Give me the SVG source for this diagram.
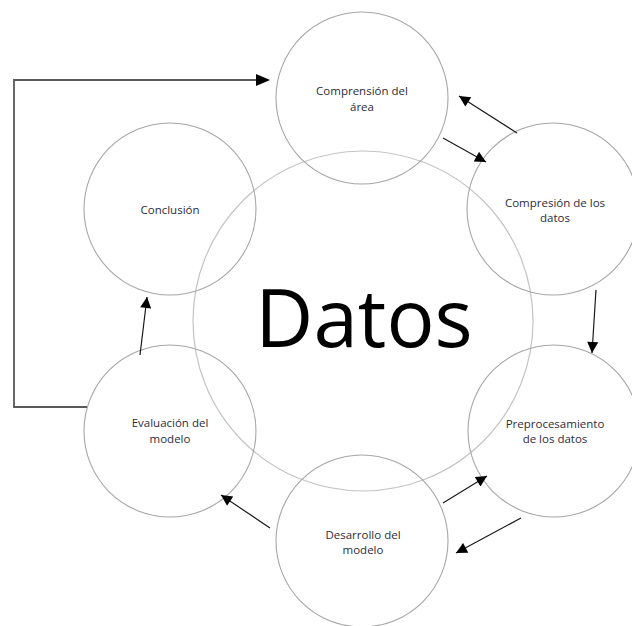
<svg xmlns="http://www.w3.org/2000/svg" width="632" height="626" viewBox="0 0 632 626">
<style>
.c{fill:none;stroke:#a6a6a6;stroke-width:1.1}
.big{fill:none;stroke:#c4c4c4;stroke-width:1.2}
.t{font-family:"Open Sans","Liberation Sans",sans-serif;font-size:11.5px;fill:#2c2c3c;text-anchor:middle}
.a{stroke:#1a1a1a;stroke-width:1.2;fill:none;marker-end:url(#ah)}
.loop{stroke:#595959;stroke-width:1.8;fill:none}
</style>
<defs>
<marker id="ah" viewBox="0 0 10 10" refX="10" refY="5" markerWidth="13" markerHeight="11" markerUnits="userSpaceOnUse" orient="auto">
<path d="M0,0 L10,5 L0,10 Z" fill="#000"/>
</marker>
</defs>
<rect width="632" height="626" fill="#fff"/>
<g id="datos">
<circle class="big" cx="363" cy="321" r="170"/>
<text x="364" y="347" font-family="Open Sans,Liberation Sans,sans-serif" font-size="80" fill="#000" text-anchor="middle">Datos</text>
</g>
<g id="comprension-area">
<circle class="c" cx="362" cy="98" r="86"/>
<text class="t" x="362" y="95">Comprensión del</text>
<text class="t" x="362" y="111">área</text>
</g>
<g id="compresion-datos">
<circle class="c" cx="553" cy="209" r="86"/>
<text class="t" x="555" y="207">Compresión de los</text>
<text class="t" x="555" y="222">datos</text>
</g>
<g id="preprocesamiento">
<circle class="c" cx="554" cy="431" r="86"/>
<text class="t" x="555" y="428">Preprocesamiento</text>
<text class="t" x="555" y="443">de los datos</text>
</g>
<g id="desarrollo">
<circle class="c" cx="362" cy="541" r="86"/>
<text class="t" x="363" y="539">Desarrollo del</text>
<text class="t" x="363" y="554">modelo</text>
</g>
<g id="evaluacion">
<circle class="c" cx="170" cy="431" r="86"/>
<text class="t" x="170" y="427">Evaluación del</text>
<text class="t" x="170" y="443">modelo</text>
</g>
<g id="conclusion">
<circle class="c" cx="170" cy="209" r="86"/>
<text class="t" x="170" y="214">Conclusión</text>
</g>
<g id="connectors">
<line class="a" x1="517" y1="133" x2="459" y2="96"/>
<line class="a" x1="443" y1="138" x2="486" y2="162"/>
<line class="a" x1="596" y1="290" x2="592" y2="353"/>
<line class="a" x1="443" y1="503" x2="487" y2="476"/>
<line class="a" x1="521" y1="518" x2="456" y2="553"/>
<line class="a" x1="270" y1="528" x2="221" y2="495"/>
<line class="a" x1="140" y1="355" x2="147" y2="297"/>
<polyline class="loop" points="87,407 14,407 14,80 258,80"/>
<polygon points="256,74 270,80 256,86" fill="#000"/>
</g>
</svg>
